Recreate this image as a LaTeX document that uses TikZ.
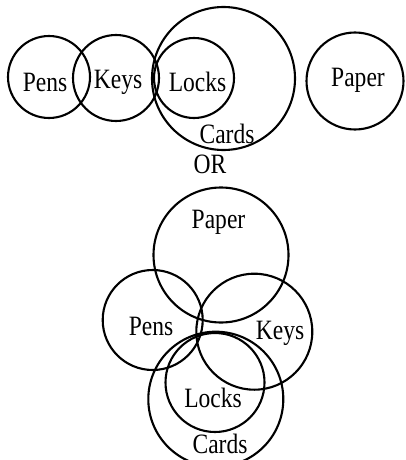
\documentclass[tikz,border=0pt]{standalone}
\usepackage{fontspec}
\setmainfont{Liberation Serif}[FakeStretch=0.84]
\usepackage{tikz}
\usetikzlibrary{positioning}

\begin{document}
\begin{tikzpicture}[x=1pt, y=-1pt]
    \tikzstyle{ring} = [circle, draw, line width=2.1pt, inner sep=0pt]
    \tikzstyle{tag} = [inner sep=0pt, font=\fontsize{28}{28}\selectfont]

    \useasboundingbox (0,0) rectangle (406,460);
    \begin{scope}
    \clip (0,0) rectangle (406,460);

    % first arrangement
    \node [ring, minimum size=82pt] (pensA) at (49,77) {};
    \node [ring, minimum size=86pt] (keysA) at (116,78) {};
    \node [ring, minimum size=143pt] (cardsA) at (223.5,78.5) {};
    \node [ring, minimum size=80pt] (locksA) at (194,78) {};
    \node [ring, minimum size=97pt] (paperA) at (355,81) {};

    % second arrangement
    \node [ring, minimum size=135pt] (paperB) at (221,255) {};
    \node [ring, minimum size=100pt] (pensB) at (152.7,320) {};
    \node [ring, minimum size=116pt] (keysB) at (254.3,331.7) {};
    \node [ring, minimum size=99pt] (locksB) at (215,382.5) {};
    \node [ring, minimum size=135pt] (cardsB) at (215.8,399.2) {};
    \end{scope}

    \node [tag] (pensAt) at (45,82) {Pens};
    \node [tag] (keysAt) at (118,82) {Keys};
    \node [tag] (locksAt) at (197.5,82) {Locks};
    \node [tag] (paperAt) at (358,80) {Paper};
    \node [tag] (cardsAt) at (227,134) {Cards};

    \node [tag] (or) at (210,164) {OR};

    \node [tag] (paperBt) at (218.5,222) {Paper};
    \node [tag] (pensBt) at (151,326) {Pens};
    \node [tag] (keysBt) at (280,333) {Keys};
    \node [tag] (locksBt) at (213,398) {Locks};
    \node [tag] (cardsBt) at (220,444) {Cards};
\end{tikzpicture}
\end{document}
